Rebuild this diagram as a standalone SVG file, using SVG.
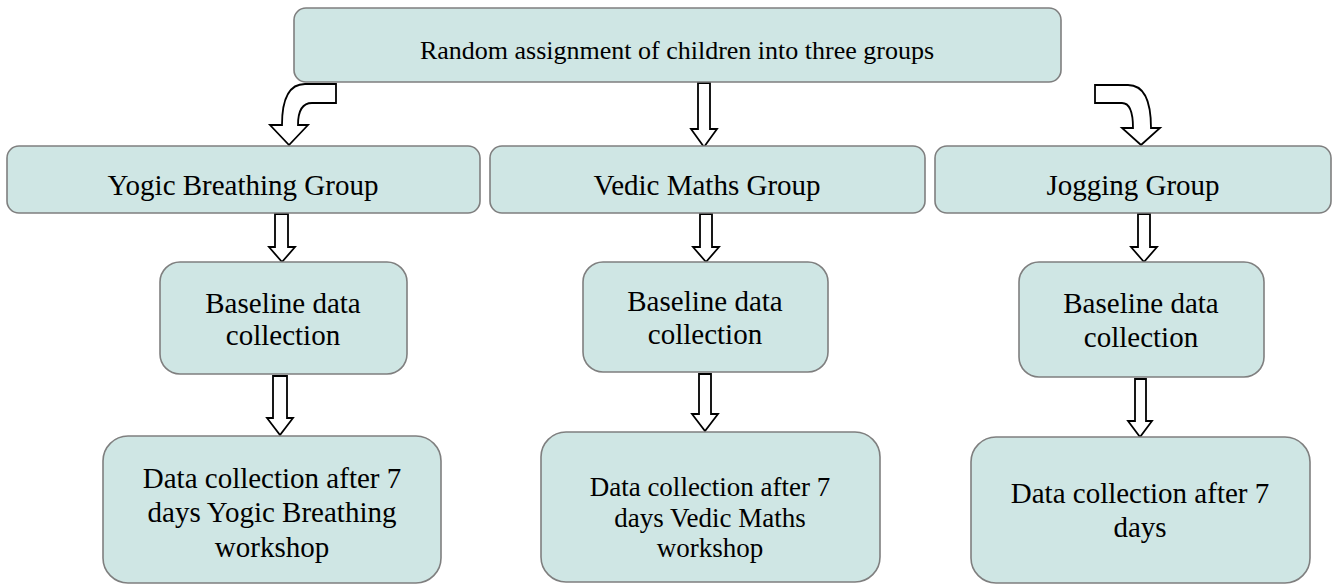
<svg xmlns="http://www.w3.org/2000/svg" width="1338" height="585" viewBox="0 0 1338 585">
<style>
.box{fill:#cfe6e4;stroke:#7f7f7f;stroke-width:1.6}
.arr{fill:#ffffff;stroke:#000000;stroke-width:1.8;stroke-linejoin:miter}
text{font-family:"Liberation Serif","Times New Roman",serif;font-size:29px;fill:#000;text-anchor:middle}
.sm{font-size:27px}
.tp{font-size:26px}
</style>
<rect width="1338" height="585" fill="#ffffff"/>
<g id="connectors">
<path class="arr" d="M336 84 L336 103 L312 103 Q298 103 298 125 L308 125 L289 145 L270 125 L282 125 Q282 84 305 84 Z"/>
<path class="arr" d="M698 83 L710 83 L710 129 L717 129 L704 147 L691 129 L698 129 Z"/>
<path class="arr" d="M1095 85 L1095 103 L1122 103 Q1133 103 1133 128 L1122 128 L1141 145 L1160 128 L1151 128 Q1151 85 1128 85 Z"/>
<path class="arr" d="M275 214 L288 214 L288 247 L295 247 L282 262 L269 247 L275 247 Z"/>
<path class="arr" d="M273 376 L287 376 L287 418 L293 418 L280 435 L267 418 L273 418 Z"/>
<path class="arr" d="M700 214 L712 214 L712 247 L719 247 L706 262 L693 247 L700 247 Z"/>
<path class="arr" d="M699 374 L711 374 L711 414 L718 414 L705 431 L692 414 L699 414 Z"/>
<path class="arr" d="M1138 214 L1150 214 L1150 247 L1157 247 L1144 262 L1131 247 L1138 247 Z"/>
<path class="arr" d="M1135 379 L1146 379 L1146 421 L1152 421 L1140 437 L1128 421 L1135 421 Z"/>
</g>
<g id="top"><rect class="box" x="294" y="8" width="767" height="74" rx="12"/><text class="tp" x="677" y="59">Random assignment of children into three groups</text></g>
<g id="yogic"><rect class="box" x="7" y="146" width="473" height="67" rx="12"/><text x="243" y="195">Yogic Breathing Group</text></g>
<g id="vedic"><rect class="box" x="490" y="146" width="435" height="67" rx="12"/><text x="707" y="195">Vedic Maths Group</text></g>
<g id="jogging"><rect class="box" x="935" y="146" width="396" height="67" rx="12"/><text x="1133" y="195">Jogging Group</text></g>
<g id="base1"><rect class="box" x="160" y="262" width="247" height="112" rx="20"/><text x="283" y="313">Baseline data</text><text x="283" y="345">collection</text></g>
<g id="base2"><rect class="box" x="583" y="262" width="245" height="110" rx="20"/><text x="705" y="311">Baseline data</text><text x="705" y="344">collection</text></g>
<g id="base3"><rect class="box" x="1019" y="262" width="245" height="115" rx="20"/><text x="1141" y="313">Baseline data</text><text x="1141" y="347">collection</text></g>
<g id="data1"><rect class="box" x="103" y="436" width="338" height="147" rx="25"/><text x="272" y="488">Data collection after 7</text><text x="272" y="522">days Yogic Breathing</text><text x="272" y="557">workshop</text></g>
<g id="data2"><rect class="box" x="541" y="432" width="339" height="150" rx="25"/><text class="sm" x="710" y="496">Data collection after 7</text><text class="sm" x="710" y="527">days Vedic Maths</text><text class="sm" x="710" y="557">workshop</text></g>
<g id="data3"><rect class="box" x="971" y="437" width="339" height="146" rx="25"/><text x="1140" y="503">Data collection after 7</text><text x="1140" y="537">days</text></g>
</svg>
